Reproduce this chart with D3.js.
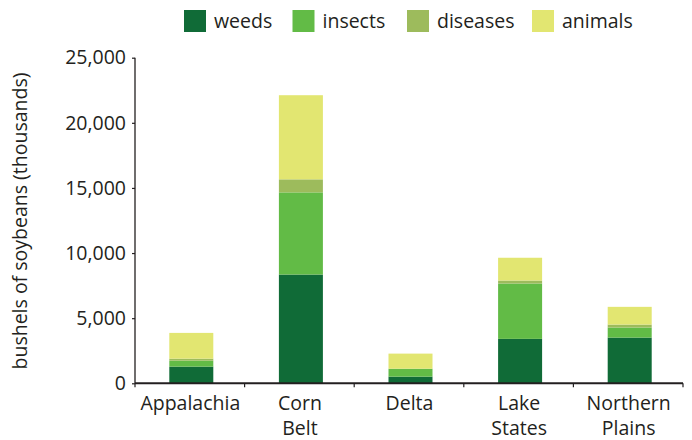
<!DOCTYPE html>
<html><head><meta charset="utf-8">
<script src="https://cdn.jsdelivr.net/npm/d3@7"></script>
<style>body{margin:0;background:#fff}text{font-family:"Open Sans",sans-serif;fill:#231f20}</style>
</head><body><svg id="c" width="692" height="440"></svg>
<script>
const regions = [["Appalachia"],["Corn","Belt"],["Delta"],["Lake","States"],["Northern","Plains"]];
const series = ["weeds","insects","diseases","animals"];
const weeds    = [1280, 8350, 510, 3410, 3510];
const insects  = [460, 6310, 610, 4250, 770];
const diseases = [150, 1000, 0, 230, 230];
const animals  = [1980, 6460, 1160, 1750, 1360];
const yTicks = [0, 5000, 10000, 15000, 20000, 25000];
const colors = ["#106b37","#62bb46","#9dbb5c","#e2e671"];

const svg = d3.select("#c");
const L = 135, R = 683, T = 57.7, B = 383.3;
const FS = 19.5;
const names = regions.map(r => r.join(" "));
const x = d3.scaleBand().domain(names).range([L, R]);
const y = d3.scaleLinear().domain([0, 25000]).range([B, T]);
const vals = [weeds, insects, diseases, animals];
const rows = names.map((n,i) => { const o = {name:n}; series.forEach((s,j)=>o[s]=vals[j][i]); return o; });
const stack = d3.stack().keys(series)(rows);
const color = d3.scaleOrdinal().domain(series).range(colors);
const bw = 44;

svg.append("g").selectAll("g").data(stack).join("g").attr("fill", d => color(d.key))
  .selectAll("rect").data(d => d).join("rect")
  .attr("x", d => x(d.data.name) + x.bandwidth()/2 - bw/2 + 1.5)
  .attr("width", bw)
  .attr("y", d => y(d[1]))
  .attr("height", d => y(d[0]) - y(d[1]));

// y axis
const ya = svg.append("g").attr("transform", `translate(${L},0)`)
  .call(d3.axisLeft(y).tickValues(yTicks).tickFormat(d3.format(",")).tickSize(3).tickPadding(6));
ya.select(".domain").attr("stroke","#231f20").attr("stroke-width",1.3).attr("d", `M0,${T}V${B}`);
ya.selectAll(".tick line").attr("stroke","#231f20").attr("stroke-width",1.2);
ya.selectAll(".tick text").attr("font-size", FS).attr("fill","#231f20").attr("font-family","Open Sans");

// x axis
const xa = svg.append("g").attr("transform", `translate(0,${B})`);
xa.append("line").attr("x1", L).attr("x2", R).attr("stroke","#231f20").attr("stroke-width",2);
const bounds = names.map(n => x(n)).concat([R]);
xa.selectAll("line.t").data(bounds).join("line").attr("class","t")
  .attr("x1", d=>d).attr("x2", d=>d).attr("y1",0).attr("y2",4).attr("stroke","#231f20").attr("stroke-width",1.2);
const lab = xa.selectAll("text").data(regions).join("text")
  .attr("text-anchor","middle").attr("font-size",FS)
  .attr("transform", (d,i) => `translate(${x(names[i]) + x.bandwidth()/2 + 0.5},0)`);
lab.selectAll("tspan").data(d => d).join("tspan").attr("x",0).attr("y",(d,i)=>27 + i*25).text(d=>d);

// y label
svg.append("text").attr("transform","translate(27,221) rotate(-90)").attr("text-anchor","middle")
  .attr("font-size",FS).text("bushels of soybeans (thousands)");

// legend
const lx = [184, 292.5, 407, 532];
const lg = svg.append("g").selectAll("g").data(series).join("g")
  .attr("transform",(d,i)=>`translate(${lx[i]},10)`);
lg.append("rect").attr("width",22).attr("height",22).attr("fill", d=>color(d));
lg.append("text").attr("x",30).attr("y",18).attr("font-size",FS).text(d=>d);
</script></body></html>
